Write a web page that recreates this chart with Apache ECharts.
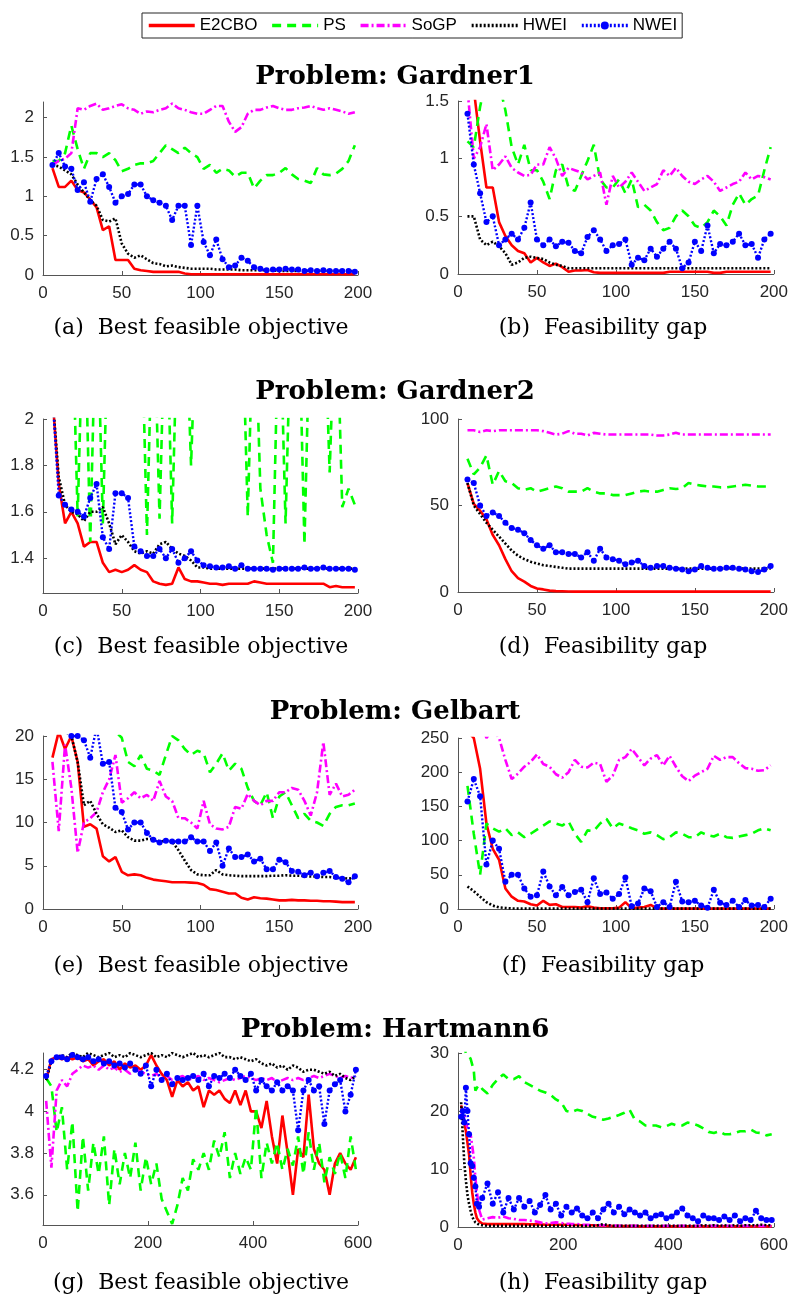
<!DOCTYPE html>
<html>
<head>
<meta charset="utf-8">
<script src="https://cdn.jsdelivr.net/npm/echarts@6/dist/echarts.min.js"></script>
<style>
  html, body { margin: 0; padding: 0; background: #fff; }
  #main { width: 791px; height: 1298px; }
</style>
</head>
<body>
<div id="main"></div>
<script>
// Iteration index helpers (x positions of the recorded runs)
function seq(start, end, step) { const out = []; for (let v = start; v <= end; v += step) out.push(v); return out; }
const iters200 = seq(6, 198, 4);                                   // 49 points
const iters600 = seq(6, 596, 10);                                  // 60 points
const itersH = [6, 9, 12, 15, 18, 21, 24, 27, 30, 33, 36, 40, 46].concat(seq(56, 596, 10)); // 68 points

const methods = ['E2CBO', 'PS', 'SoGP', 'HWEI', 'NWEI'];
const problems = ['Problem: Gardner1', 'Problem: Gardner2', 'Problem: Gelbart', 'Problem: Hartmann6'];
const captions = ['(a)  Best feasible objective', '(b)  Feasibility gap',
                  '(c)  Best feasible objective', '(d)  Feasibility gap',
                  '(e)  Best feasible objective', '(f)  Feasibility gap',
                  '(g)  Best feasible objective', '(h)  Feasibility gap'];

const xTicks200 = [0, 50, 100, 150, 200];
const xTicks600 = [0, 200, 400, 600];
const yTicksA = [0, 0.5, 1, 1.5, 2];
const yTicksB = [0, 0.5, 1, 1.5];
const yTicksC = [1.4, 1.6, 1.8, 2];
const yTicksD = [0, 50, 100];
const yTicksE = [0, 5, 10, 15, 20];
const yTicksF = [0, 50, 100, 150, 200, 250];
const yTicksG = [3.6, 3.8, 4, 4.2];
const yTicksH = [0, 10, 20, 30];

// ---- Gardner1: best feasible objective (a)
const a_E2CBO = [1.36, 1.12, 1.12, 1.2, 1.08, 1.05, 0.96, 0.86, 0.57, 0.62,
  0.19, 0.19, 0.19, 0.08, 0.06, 0.05, 0.04, 0.04, 0.04, 0.04,
  0.04, 0.02, 0.01, 0.01, 0.01, 0.01, 0.01, 0.01, 0.01, 0.01,
  0.01, 0.01, 0.01, 0.01, 0.01, 0.01, 0.01, 0.01, 0.01, 0.01,
  0.01, 0.01, 0.01, 0.01, 0.01, 0.01, 0.01, 0.01, 0.01];
const a_PS = [1.45, 1.45, 1.55, 1.9, 1.6, 1.35, 1.55, 1.55, 1.5, 1.55,
  1.46, 1.32, 1.35, 1.4, 1.42, 1.42, 1.45, 1.55, 1.65, 1.6,
  1.55, 1.62, 1.55, 1.5, 1.35, 1.4, 1.3, 1.35, 1.33, 1.25,
  1.3, 1.3, 1.1, 1.2, 1.27, 1.27, 1.3, 1.36, 1.28, 1.22,
  1.2, 1.17, 1.36, 1.28, 1.27, 1.29, 1.35, 1.45, 1.65];
const a_SoGP = [1.4, 1.45, 1.48, 1.55, 2.12, 2.1, 2.15, 2.18, 2.1, 2.12,
  2.15, 2.17, 2.12, 2.1, 2.05, 2.08, 2.07, 2.1, 2.12, 2.18,
  2.12, 2.1, 2.07, 2.05, 2.05, 2.1, 2.15, 2.15, 1.95, 1.82,
  1.88, 2.05, 2.1, 2.1, 2.13, 2.15, 2.12, 2.1, 2.1, 2.12,
  2.13, 2.15, 2.12, 2.1, 2.12, 2.1, 2.08, 2.05, 2.07];
const a_HWEI = [1.4, 1.38, 1.33, 1.28, 1.15, 1.05, 0.95, 0.88, 0.7, 0.68,
  0.72, 0.4, 0.27, 0.22, 0.25, 0.2, 0.15, 0.14, 0.11, 0.12,
  0.1, 0.09, 0.08, 0.08, 0.08, 0.08, 0.07, 0.07, 0.07, 0.07,
  0.06, 0.06, 0.06, 0.06, 0.06, 0.06, 0.05, 0.05, 0.05, 0.05,
  0.05, 0.05, 0.05, 0.05, 0.05, 0.05, 0.05, 0.05, 0.05];
const a_NWEI = [1.4, 1.55, 1.38, 1.35, 1.08, 1.18, 0.93, 1.22, 1.28, 1.12,
  0.92, 1.0, 1.03, 1.15, 1.15, 1.0, 0.95, 0.92, 0.88, 0.7,
  0.88, 0.88, 0.38, 0.88, 0.42, 0.25, 0.45, 0.2, 0.1, 0.12,
  0.22, 0.18, 0.1, 0.08, 0.06, 0.07, 0.07, 0.08, 0.07, 0.07,
  0.05, 0.06, 0.05, 0.06, 0.05, 0.05, 0.05, 0.05, 0.04];

// ---- Gardner1: feasibility gap (b)
const b_E2CBO = [2.2, 1.6, 1.15, 0.75, 0.75, 0.45, 0.33, 0.25, 0.2, 0.18,
  0.1, 0.14, 0.1, 0.07, 0.09, 0.06, 0.02, 0.03, 0.03, 0.035,
  0.015, 0.01, 0.01, 0.01, 0.01, 0.01, 0.01, 0.01, 0.01, 0.01,
  0.01, 0.01, 0.02, 0.02, 0.02, 0.02, 0.02, 0.02, 0.02, 0.01,
  0.01, 0.02, 0.02, 0.02, 0.02, 0.02, 0.02, 0.02, 0.02];
const b_PS = [1.15, 1.1, 1.45, 1.7, 1.8, 1.65, 1.42, 1.1, 0.95, 1.12,
  0.9, 0.9, 0.8, 0.65, 0.9, 0.95, 0.75, 0.72, 0.85, 0.98,
  1.12, 0.82, 0.75, 0.75, 0.82, 0.7, 0.82, 0.58, 0.6, 0.55,
  0.45, 0.38, 0.4, 0.5, 0.55, 0.5, 0.42, 0.4, 0.45, 0.55,
  0.5, 0.42, 0.6, 0.7, 0.6, 0.65, 0.68, 0.9, 1.1];
const b_SoGP = [1.6, 1.0, 1.1, 1.3, 0.9, 0.95, 1.02, 0.92, 0.88, 0.85,
  0.86, 0.95, 0.95, 1.1, 1.0, 0.85, 0.92, 0.9, 0.88, 0.82,
  0.85, 0.88, 0.6, 0.85, 0.75, 0.8, 0.88, 0.8, 0.72, 0.75,
  0.78, 0.9, 0.85, 0.92, 0.85, 0.8, 0.78, 0.82, 0.85, 0.8,
  0.72, 0.75, 0.78, 0.8, 0.88, 0.82, 0.85, 0.84, 0.82];
const b_HWEI = [0.5, 0.5, 0.3, 0.25, 0.28, 0.24, 0.18, 0.08, 0.1, 0.14,
  0.15, 0.14, 0.13, 0.1, 0.08, 0.07, 0.05, 0.05, 0.05, 0.05,
  0.05, 0.05, 0.05, 0.05, 0.05, 0.05, 0.05, 0.05, 0.05, 0.05,
  0.05, 0.05, 0.05, 0.05, 0.05, 0.05, 0.05, 0.05, 0.05, 0.05,
  0.05, 0.05, 0.05, 0.05, 0.05, 0.05, 0.05, 0.05, 0.05];
const b_NWEI = [1.39, 0.95, 0.7, 0.45, 0.5, 0.25, 0.3, 0.35, 0.3, 0.4,
  0.62, 0.3, 0.25, 0.3, 0.24, 0.28, 0.27, 0.2, 0.18, 0.32,
  0.38, 0.3, 0.2, 0.25, 0.26, 0.3, 0.08, 0.14, 0.12, 0.22,
  0.15, 0.22, 0.28, 0.22, 0.05, 0.1, 0.28, 0.2, 0.42, 0.18,
  0.26, 0.25, 0.28, 0.35, 0.25, 0.26, 0.14, 0.3, 0.35];

// ---- Gardner2: best feasible objective (c)  (values above 2 run off the axis)
const c_E2CBO = [2.1, 1.72, 1.55, 1.6, 1.55, 1.45, 1.47, 1.47, 1.38, 1.34,
  1.35, 1.34, 1.35, 1.37, 1.35, 1.34, 1.3, 1.29, 1.285, 1.29,
  1.36, 1.31, 1.3, 1.3, 1.295, 1.29, 1.29, 1.285, 1.29, 1.29,
  1.29, 1.29, 1.3, 1.295, 1.29, 1.29, 1.29, 1.29, 1.29, 1.29,
  1.29, 1.29, 1.29, 1.29, 1.275, 1.28, 1.275, 1.275, 1.275];
const c_PS = [2.6, 2.6, 2.6, 2.6, 1.58, 2.6, 1.47, 2.6, 1.55, 2.6,
  2.6, 2.6, 2.6, 2.6, 2.6, 1.5, 2.6, 1.57, 2.6, 1.55,
  2.6, 2.6, 1.8, 2.6, 2.6, 2.6, 2.6, 2.6, 2.6, 2.6,
  2.6, 1.58, 2.6, 1.7, 1.5, 1.38, 2.6, 1.55, 2.6, 2.6,
  1.46, 2.6, 2.6, 2.6, 1.77, 2.6, 1.62, 1.7, 1.63];
const c_SoGP = [];
const c_HWEI = [2.1, 1.75, 1.63, 1.6, 1.59, 1.56, 1.6, 1.6, 1.62, 1.55,
  1.46, 1.5, 1.47, 1.43, 1.42, 1.43, 1.42, 1.46, 1.47, 1.44,
  1.42, 1.41, 1.39, 1.36, 1.36, 1.355, 1.355, 1.355, 1.355, 1.355,
  1.355, 1.355, 1.355, 1.355, 1.355, 1.355, 1.355, 1.355, 1.355, 1.355,
  1.355, 1.355, 1.355, 1.355, 1.355, 1.355, 1.355, 1.355, 1.355];
const c_NWEI = [2.1, 1.67, 1.63, 1.61, 1.6, 1.58, 1.66, 1.72, 1.49, 1.44,
  1.68, 1.68, 1.66, 1.45, 1.43, 1.41, 1.41, 1.44, 1.4, 1.44,
  1.38, 1.4, 1.43, 1.39, 1.37, 1.365, 1.36, 1.36, 1.365, 1.355,
  1.37, 1.355, 1.355, 1.355, 1.355, 1.35, 1.355, 1.355, 1.355, 1.355,
  1.36, 1.355, 1.355, 1.36, 1.355, 1.355, 1.355, 1.355, 1.35];

// ---- Gardner2: feasibility gap (d)
const d_E2CBO = [63, 51, 47, 42, 33, 27, 19, 12, 8, 6,
  3.5, 2, 1.5, 0.8, 0.5, 0.4, 0.3, 0.2, 0.2, 0.2,
  0.2, 0.2, 0.2, 0.2, 0.2, 0.2, 0.2, 0.2, 0.2, 0.2,
  0.2, 0.2, 0.2, 0.2, 0.2, 0.2, 0.2, 0.2, 0.2, 0.2,
  0.2, 0.2, 0.2, 0.2, 0.2, 0.2, 0.2, 0.2, 0.2];
const d_PS = [77, 68, 72, 79, 62, 70, 64, 63, 60, 59,
  60, 58, 59, 60, 61, 60, 58, 58, 58, 60,
  58, 57, 57, 56, 56, 56, 57, 58, 58.5, 58,
  58, 59, 60, 59.5, 60, 63, 62, 61.5, 61, 61,
  60.5, 60.5, 61, 61.5, 62, 61.5, 61, 61, 61];
const d_SoGP = [93.5, 93.5, 92.5, 93.5, 93, 93.5, 93.5, 93.5, 93.5, 93.5,
  93.5, 93.5, 93, 92, 91, 91.5, 93, 91.5, 91.5, 90.5,
  92, 91.5, 91, 91, 91, 91, 91, 91, 91, 91,
  90.5, 90.5, 91, 92, 91, 91, 91, 91, 91, 91,
  91, 91, 91, 91, 91, 91, 91, 91, 91];
const d_HWEI = [63, 50, 45, 40, 36, 32, 28, 24, 21, 19,
  17.5, 16.5, 15.5, 15, 14.5, 14, 13.5, 13.5, 13.5, 13.5,
  13.5, 13.5, 13.5, 13.5, 13.5, 13.5, 13.5, 13.5, 13.5, 13.5,
  13.5, 13.5, 13.5, 13.5, 13.5, 13.5, 13.5, 13.5, 13.5, 13.5,
  13.5, 13.5, 13.5, 13.5, 13.5, 13.5, 13.5, 13.5, 13.5];
const d_NWEI = [65, 63, 50, 44, 46, 44, 40, 37, 36, 34,
  30, 27, 25, 27, 23, 23, 22, 22, 20, 23,
  18, 25, 20, 19, 18, 16, 17, 18, 15, 14,
  15, 15, 14, 13.5, 13, 12, 13, 15, 14, 13.5,
  13.5, 14, 14, 13.5, 13, 12, 11.5, 13, 15];

// ---- Gelbart: best feasible objective (e)
const e_E2CBO = [17.5, 20.5, 18.5, 20, 17, 9.5, 9.8, 9.3, 6.1, 5.5,
  6.0, 4.3, 3.9, 4.0, 3.9, 3.6, 3.4, 3.3, 3.2, 3.1,
  3.1, 3.1, 3.05, 3.0, 2.8, 2.3, 2.2, 2.0, 1.8, 1.8,
  1.3, 1.1, 1.35, 1.25, 1.2, 1.1, 1.0, 1.0, 1.05, 1.0,
  1.0, 0.95, 0.95, 0.9, 0.9, 0.85, 0.8, 0.8, 0.8];
const e_PS = [22, 22, 22, 22, 22, 22, 22, 22, 22, 22,
  20.5, 19.8, 17, 16.5, 17.8, 16.2, 16, 15.5, 17.8, 20,
  19.5, 18.5, 17.8, 18.3, 18, 15.8, 16.8, 18, 16, 16.8,
  16.2, 14, 12.5, 12, 13.5, 10.5, 13, 13.5, 12, 10.5,
  11, 10.2, 10, 9.6, 11, 11.8, 12, 12, 12.2];
const e_SoGP = [17, 9, 19, 14, 6.5, 10, 10.5, 11.2, 13.5, 15,
  17.8, 12.3, 12.8, 13.5, 12.8, 13.2, 12.5, 14.8, 13, 12.5,
  10.5, 10.5, 10, 9.3, 12.5, 9.8, 9.3, 9.2, 9.5, 11.8,
  11.6, 13.3, 12.5, 12, 12.5, 12.5, 13.5, 13.5, 14, 13.8,
  12.5, 10.8, 13.5, 19.3, 13.2, 14.5, 13, 13.2, 13.8];
const e_HWEI = [21, 21, 20.5, 20, 17, 12, 12.5, 11, 9.8, 9.4,
  8.9, 9.1, 8.3, 7.9, 7.9, 8.1, 8.1, 7.8, 7.9, 7.8,
  6.8, 5.6, 4.5, 4.0, 3.9, 3.9, 4.5, 4.0, 3.9, 3.85,
  3.8, 3.8, 3.8, 3.8, 3.8, 3.85, 3.85, 3.9, 3.85, 3.85,
  3.8, 3.75, 3.75, 3.7, 3.7, 3.6, 3.6, 3.5, 3.6];
const e_NWEI = [21, 21, 20.5, 20, 20, 19.5, 17.5, 21, 16.8, 17,
  11.7, 11.2, 9.2, 10, 10, 8.8, 8.0, 7.7, 7.9, 7.8,
  7.8, 7.8, 8.3, 7.8, 7.8, 6.7, 7.7, 5.0, 7.0, 6.0,
  6.0, 6.3, 5.5, 5.8, 4.6, 4.6, 5.7, 5.4, 4.4, 4.3,
  3.9, 4.2, 3.8, 4.2, 4.4, 3.7, 3.5, 3.1, 3.8];

// ---- Gelbart: feasibility gap (f)
const f_E2CBO = [260, 250, 205, 125, 88, 72, 30, 18, 12, 11,
  7, 5, 12, 6, 7, 3, 3, 3, 2, 4,
  2, 1, 1, 1, 2, 10, 1, 2, 3, 6,
  1, 0.5, 0.5, 0.5, 0.5, 0.5, 0.5, 0.5, 0.5, 0.5,
  0.5, 0.5, 0.5, 0.5, 0.5, 0.5, 0.5, 0.5, 0.5];
const f_PS = [180, 110, 50, 125, 118, 113, 118, 108, 112, 105,
  110, 116, 122, 128, 125, 122, 128, 110, 98, 115,
  114, 125, 132, 118, 125, 122, 118, 115, 110, 112,
  108, 102, 105, 112, 110, 105, 105, 112, 108, 106,
  110, 105, 104, 106, 108, 110, 115, 118, 115];
const f_SoGP = [290, 290, 280, 250, 262, 250, 218, 190, 198, 208,
  215, 226, 212, 208, 197, 192, 200, 218, 208, 207,
  214, 212, 186, 195, 218, 222, 234, 222, 210, 220,
  225, 210, 224, 208, 194, 187, 195, 200, 205, 224,
  218, 222, 222, 213, 206, 205, 202, 203, 210];
const f_HWEI = [33, 26, 18, 10, 5, 2.5, 1.5, 0.8, 0.6, 0.5,
  0.5, 0.5, 0.5, 0.5, 0.5, 0.5, 0.5, 0.5, 0.5, 0.5,
  0.5, 0.5, 0.5, 0.5, 0.5, 0.5, 0.5, 0.5, 0.5, 0.5,
  0.5, 0.5, 0.5, 0.5, 0.5, 0.5, 0.5, 0.5, 0.5, 0.5,
  0.5, 0.5, 0.5, 0.5, 0.5, 0.5, 0.5, 0.5, 0.5];
const f_NWEI = [157, 190, 165, 65, 100, 88, 40, 50, 50, 30,
  18, 20, 55, 33, 20, 32, 20, 25, 28, 10,
  45, 22, 24, 15, 22, 46, 4, 8, 30, 26,
  3, 10, 3, 40, 11, 10, 12, 5, 2, 28,
  9, 6, 12, 3, 13, 5, 6, 3, 15];

// ---- Hartmann6: best feasible objective (g)
const g_E2CBO = [4.15, 4.25, 4.26, 4.25, 4.26, 4.25, 4.26, 4.24, 4.25, 4.22,
  4.24, 4.25, 4.22, 4.24, 4.2, 4.23, 4.21, 4.22, 4.2, 4.22,
  4.27, 4.22, 4.18, 4.15, 4.07, 4.15, 4.12, 4.14, 4.1, 4.12,
  4.02, 4.1, 4.08, 4.1, 4.06, 4.04, 4.1, 4.03, 4.1, 4.0,
  4.0, 3.92, 4.05, 3.88, 3.75, 3.98, 3.8, 3.6, 3.82, 3.78,
  4.08, 3.82, 3.75, 3.72, 3.6, 3.75, 3.8, 3.75, 3.72, 3.78];
const g_PS = [4.16, 4.12, 3.9, 4.02, 3.72, 3.95, 3.52, 3.88, 3.62, 3.85,
  3.7, 3.88, 3.55, 3.82, 3.65, 3.8, 3.68, 3.85, 3.62, 3.78,
  3.65, 3.75, 3.58, 3.52, 3.46, 3.55, 3.68, 3.62, 3.77, 3.72,
  3.8, 3.72, 3.86, 3.78, 3.9, 3.68, 3.8, 3.7, 3.78, 3.72,
  4.02, 3.68, 3.85, 3.75, 3.85, 3.72, 3.82, 3.74, 3.88, 3.7,
  3.9, 3.72, 3.85, 3.66, 3.78, 3.7, 3.8, 3.68, 3.88, 3.72];
const g_SoGP = [4.05, 3.73, 4.1, 4.15, 4.12, 4.18, 4.2, 4.22, 4.21, 4.22,
  4.2, 4.22, 4.2, 4.21, 4.19, 4.2, 4.18, 4.2, 4.19, 4.18,
  4.17, 4.18, 4.16, 4.17, 4.15, 4.16, 4.17, 4.15, 4.16, 4.17,
  4.15, 4.16, 4.15, 4.14, 4.15, 4.16, 4.15, 4.16, 4.17, 4.16,
  4.15, 4.16, 4.15, 4.16, 4.14, 4.15, 4.16, 4.15, 4.16, 4.15,
  4.16, 4.17, 4.16, 4.17, 4.18, 4.17, 4.16, 4.17, 4.16, 4.17];
const g_HWEI = [4.15, 4.24, 4.26, 4.27, 4.26, 4.28, 4.27, 4.26, 4.28, 4.27,
  4.26, 4.27, 4.28, 4.26, 4.27, 4.26, 4.28, 4.27, 4.26, 4.27,
  4.28, 4.26, 4.27, 4.26, 4.28, 4.27, 4.26, 4.27, 4.28, 4.26,
  4.27, 4.26, 4.27, 4.28, 4.26, 4.26, 4.25, 4.26, 4.25, 4.24,
  4.25, 4.23, 4.22, 4.23, 4.21, 4.22, 4.2, 4.22, 4.21, 4.19,
  4.2, 4.2, 4.19, 4.18, 4.19, 4.17, 4.18, 4.16, 4.15, 4.17];
const g_NWEI = [4.17, 4.24, 4.26, 4.26, 4.25, 4.27, 4.26, 4.25, 4.26, 4.24,
  4.25, 4.23, 4.24, 4.22, 4.23, 4.21, 4.23, 4.2, 4.18, 4.22,
  4.12, 4.2, 4.15, 4.18, 4.13, 4.16, 4.15, 4.16, 4.17, 4.15,
  4.18, 4.12, 4.17, 4.16, 4.18, 4.16, 4.2, 4.17, 4.15, 4.18,
  4.1, 4.15, 4.12, 4.1, 4.14, 4.1, 4.12, 4.1, 3.91, 4.1,
  4.15, 4.1, 4.12, 3.94, 4.1, 4.13, 4.15, 4.0, 4.08, 4.2];

// ---- Hartmann6: feasibility gap (h)
const h_E2CBO = [21, 19.5, 18, 16.5, 14.5, 12.5, 9, 6, 4, 2.5, 1.5, 1, 0.6,
  0.5, 0.5, 0.5, 0.5, 0.5, 0.5, 0.5, 0.5, 0.45, 0.45,
  0.45, 0.4, 0.4, 0.4, 0.4, 0.4, 0.35, 0.35, 0.3, 0.3,
  0.3, 0.25, 0.2, 0.2, 0.15, 0.15, 0.15, 0.15, 0.15, 0.1,
  0.1, 0.1, 0.1, 0.1, 0.1, 0.1, 0.1, 0.1, 0.1, 0.1,
  0.1, 0.1, 0.1, 0.1, 0.1, 0.1, 0.1, 0.1, 0.1, 0.1,
  0.1, 0.1, 0.1, 0.1, 0.1];
const h_PS = [31, 31, 31, 30, 30, 29.5, 29, 28, 27, 23.5, 24, 24.5, 23.8,
  23, 24.5, 25.5, 26.3, 25.5, 25.5, 26, 25, 24.5, 24,
  23.5, 23.2, 22.8, 22, 21.5, 20, 19.8, 20.2, 20, 19.5,
  19, 18.8, 18.5, 18.7, 19, 19.3, 19.7, 20.2, 18.5, 18.2,
  17.5, 17.5, 17.5, 17.2, 17.4, 17.8, 17.5, 17.5, 18, 17.8,
  17.5, 17, 16.4, 16.2, 16.5, 16, 16, 16.2, 16.5, 16.5,
  16.8, 16.3, 16.2, 15.8, 16];
const h_SoGP = [19, 20, 19.5, 18, 17, 15.5, 16, 16, 12, 8.5, 6, 3, 1.3,
  1.5, 1.7, 1.6, 1.8, 1.5, 1.4, 1.2, 1.2, 1.1, 1.0,
  0.8, 0.6, 0.7, 0.8, 0.7, 0.6, 0.5, 0.5, 0.4, 0.4,
  0.3, 0.3, 0.3, 0.25, 0.25, 0.2, 0.2, 0.2, 0.2, 0.2,
  0.2, 0.2, 0.2, 0.2, 0.2, 0.2, 0.2, 0.2, 0.2, 0.2,
  0.2, 0.2, 0.2, 0.2, 0.2, 0.2, 0.2, 0.2, 0.2, 0.2,
  0.2, 0.2, 0.2, 0.2, 0.2];
const h_HWEI = [21.5, 16, 11, 8, 5.5, 4, 2.8, 1.8, 1.2, 0.8, 0.6, 0.4, 0.3,
  0.2, 0.2, 0.2, 0.2, 0.2, 0.2, 0.2, 0.2, 0.2, 0.2,
  0.2, 0.2, 0.2, 0.2, 0.2, 0.2, 0.2, 0.2, 0.2, 0.2,
  0.2, 0.3, 0.5, 0.3, 0.2, 0.2, 0.2, 0.2, 0.2, 0.2,
  0.2, 0.2, 0.2, 0.2, 0.2, 0.2, 0.2, 0.2, 0.2, 0.2,
  0.2, 0.3, 0.2, 0.3, 0.2, 0.3, 0.2, 0.3, 0.2, 0.3,
  0.3, 0.3, 0.4, 0.3, 0.3];
const h_NWEI = [19, 20, 18, 24, 20, 16, 11, 10.5, 8.5, 7, 4, 3.5, 5,
  7.5, 4, 6, 2.5, 5, 3, 5, 3.5, 4.5, 2.5,
  3.8, 5.5, 3, 4, 2, 3.5, 2.5, 3.2, 2, 1.5,
  2.5, 1.5, 3, 4, 2.5, 3.5, 2.2, 3, 2.5, 2,
  2.5, 1.5, 2, 2.2, 1.5, 1.8, 2.5, 3.2, 2, 1.5,
  1, 2, 1.5, 1.5, 1.2, 1.8, 1.2, 2, 1, 1.5,
  1.2, 2.8, 1.5, 1.2, 1.2];

// Panel layout: grid rectangles, axis ranges and the series arrays for each panel
const panels = [
  { grid: [43, 102, 315, 173], x: iters200, xMax: 200, xTicks: xTicks200, yMin: 0, yMax: 2.2, yTicks: yTicksA,
    data: [a_E2CBO, a_PS, a_SoGP, a_HWEI, a_NWEI] },
  { grid: [458, 101, 317, 173], x: iters200, xMax: 200, xTicks: xTicks200, yMin: 0, yMax: 1.5, yTicks: yTicksB,
    data: [b_E2CBO, b_PS, b_SoGP, b_HWEI, b_NWEI] },
  { grid: [43, 419, 315, 174], x: iters200, xMax: 200, xTicks: xTicks200, yMin: 1.25, yMax: 2, yTicks: yTicksC,
    data: [c_E2CBO, c_PS, c_SoGP, c_HWEI, c_NWEI] },
  { grid: [458, 419, 317, 173], x: iters200, xMax: 200, xTicks: xTicks200, yMin: 0, yMax: 100, yTicks: yTicksD,
    data: [d_E2CBO, d_PS, d_SoGP, d_HWEI, d_NWEI] },
  { grid: [43, 736, 315, 173], x: iters200, xMax: 200, xTicks: xTicks200, yMin: 0, yMax: 20, yTicks: yTicksE,
    data: [e_E2CBO, e_PS, e_SoGP, e_HWEI, e_NWEI] },
  { grid: [458, 738, 317, 171], x: iters200, xMax: 200, xTicks: xTicks200, yMin: 0, yMax: 250, yTicks: yTicksF,
    data: [f_E2CBO, f_PS, f_SoGP, f_HWEI, f_NWEI] },
  { grid: [43, 1053, 315, 172], x: iters600, xMax: 600, xTicks: xTicks600, yMin: 3.455, yMax: 4.28, yTicks: yTicksG,
    data: [g_E2CBO, g_PS, g_SoGP, g_HWEI, g_NWEI] },
  { grid: [458, 1053, 317, 174], x: itersH, xMax: 600, xTicks: xTicks600, yMin: 0, yMax: 30, yTicks: yTicksH,
    data: [h_E2CBO, h_PS, h_SoGP, h_HWEI, h_NWEI] }
];

const lineStyles = {
  E2CBO: { color: '#ff0000', type: 'solid', width: 2.6 },
  PS:    { color: '#00ff00', type: [9, 6], width: 2.6 },
  SoGP:  { color: '#ff00ff', type: [8, 3, 2, 3], width: 2.6 },
  HWEI:  { color: '#000000', type: [2, 2], width: 2.6 },
  NWEI:  { color: '#0000ff', type: [2, 2], width: 2.4 }
};

const AXIS_COLOR = '#555';
const LABEL_FONT = 'Liberation Sans, Arial, sans-serif';

const grids = [], xAxes = [], yAxes = [], series = [];
panels.forEach((p, i) => {
  grids.push({ left: p.grid[0], top: p.grid[1], width: p.grid[2], height: p.grid[3], containLabel: false });
  xAxes.push({
    type: 'value', gridIndex: i, min: 0, max: p.xMax,
    axisLine: { show: true, onZero: false, lineStyle: { color: AXIS_COLOR, width: 1 } },
    axisTick: { show: true, inside: true, length: 4, customValues: p.xTicks, lineStyle: { color: AXIS_COLOR } },
    axisLabel: { customValues: p.xTicks, color: '#262626', fontSize: 17, fontFamily: LABEL_FONT, margin: 10 },
    splitLine: { show: false }
  });
  yAxes.push({
    type: 'value', gridIndex: i, min: p.yMin, max: p.yMax,
    axisLine: { show: true, onZero: false, lineStyle: { color: AXIS_COLOR, width: 1 } },
    axisTick: { show: true, inside: true, length: 4, customValues: p.yTicks, lineStyle: { color: AXIS_COLOR } },
    axisLabel: { customValues: p.yTicks, color: '#262626', fontSize: 17, fontFamily: LABEL_FONT, margin: 9 },
    splitLine: { show: false }
  });
  methods.forEach((m, k) => {
    const ys = p.data[k];
    if (!ys || !ys.length) return;
    const isN = m === 'NWEI';
    series.push({
      name: m, type: 'line', xAxisIndex: i, yAxisIndex: i,
      data: ys.map((y, j) => [p.x[j], y]),
      symbol: isN ? 'circle' : 'none', symbolSize: 6, showSymbol: isN,
      itemStyle: { color: lineStyles[m].color },
      lineStyle: lineStyles[m],
      clip: true, silent: true, animation: false
    });
  });
});

// Legend entries: only NWEI carries a marker on its key line
const legendData = methods.map(m => m === 'NWEI'
  ? { name: m }
  : { name: m, itemStyle: { opacity: 0 } });

// Problem headings and sub-figure captions
const titleRows = [77, 392, 712, 1030];
const captionRows = [328, 647, 966, 1283];
const graphics = [];
problems.forEach((t, r) => {
  graphics.push({ type: 'text', x: 395, y: titleRows[r],
    style: { text: t, font: 'bold 26px "DejaVu Serif", serif', fill: '#000', align: 'center', verticalAlign: 'middle' } });
  graphics.push({ type: 'text', x: 201, y: captionRows[r],
    style: { text: captions[2 * r], font: '22px "DejaVu Serif", serif', fill: '#000', align: 'center', verticalAlign: 'middle' } });
  graphics.push({ type: 'text', x: 603, y: captionRows[r],
    style: { text: captions[2 * r + 1], font: '22px "DejaVu Serif", serif', fill: '#000', align: 'center', verticalAlign: 'middle' } });
});

const chart = echarts.init(document.getElementById('main'), null, { renderer: 'canvas' });
chart.setOption({
  backgroundColor: '#ffffff',
  animation: false,
  legend: {
    data: legendData, left: 142, top: 13, orient: 'horizontal',
    itemWidth: 46, itemHeight: 10, itemGap: 13,
    padding: [4, 5, 4, 5],
    borderColor: '#262626', borderWidth: 1, backgroundColor: '#ffffff',
    textStyle: { fontFamily: LABEL_FONT, fontSize: 17, color: '#000' },
    lineStyle: { width: 3.5 },
    selectedMode: false
  },
  grid: grids,
  xAxis: xAxes,
  yAxis: yAxes,
  series: series,
  graphic: graphics
});
</script>
</body>
</html>
